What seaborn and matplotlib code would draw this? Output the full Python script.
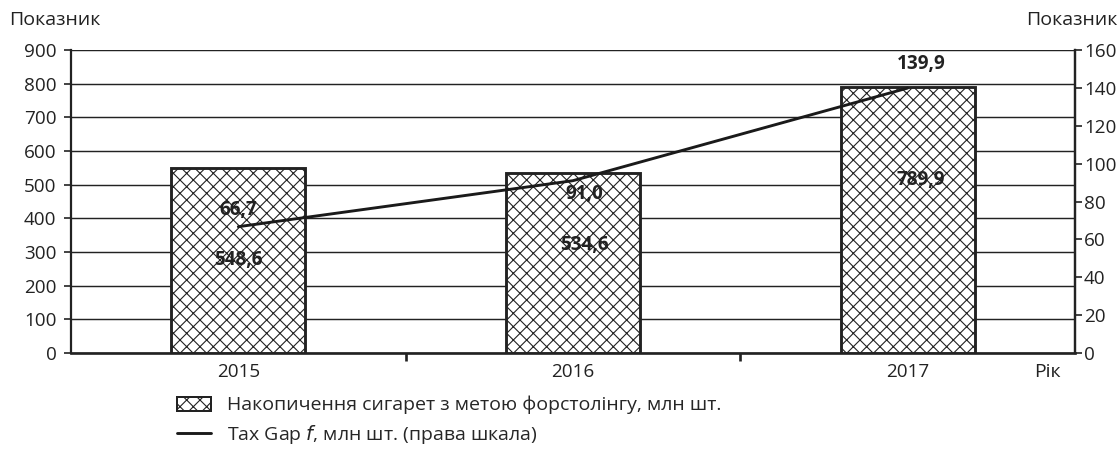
import numpy as np
import pandas as pd
import matplotlib
matplotlib.use("Agg")
import matplotlib.pyplot as plt
import seaborn as sns
from matplotlib.patches import Patch
from matplotlib.lines import Line2D
from matplotlib.ticker import FixedLocator

# дані
years = ["2015", "2016", "2017"]
stock = [548.6, 534.6, 789.9]        # накопичення, ліва шкала
tax_gap = [66.7, 91.0, 139.9]        # Tax Gap f, права шкала
stock_labels = ["548,6", "534,6", "789,9"]
gap_labels = ["66,7", "91,0", "139,9"]

# розміщення підписів (лише оформлення)
stock_label_y = [276, 321, 514]
gap_label_y = [75.5, 84, 152.6]
label_dx = [0.0, 0.035, 0.04]

sns.set_theme(style="white")
plt.rcParams['font.family'] = ['Open Sans', 'DejaVu Sans']
plt.rcParams['hatch.linewidth'] = 1.0

df = pd.DataFrame({"year": years, "stock": stock, "gap": tax_gap})

DPI = 80
fig = plt.figure(figsize=(1119 / DPI, 449 / DPI), dpi=DPI)
ax = fig.add_axes([71 / 1119, 1 - 353 / 449, (1075 - 71) / 1119, 303 / 449])

sns.barplot(data=df, x="year", y="stock", ax=ax, color="white",
            edgecolor="#222222", linewidth=2.6, hatch="xx", width=0.4,
            saturation=1, zorder=3)
ax.set_xlim(-0.5, 2.5)
ax.set_ylim(0, 900)
ax.set_yticks(np.arange(0, 901, 100))
ax.set_xlabel("")
ax.set_ylabel("")
ax.yaxis.grid(True, color="#222222", linewidth=1.3)
ax.set_axisbelow(True)

ax.tick_params(axis="y", left=True, direction="out", length=6, width=1.5,
               labelsize=17, color="#222222", labelcolor="#222222", pad=7)
ax.tick_params(axis="x", which="major", bottom=False, length=0,
               labelsize=17, pad=9, labelcolor="#222222")
ax.xaxis.set_minor_locator(FixedLocator([0.5, 1.5]))
ax.tick_params(axis="x", which="minor", bottom=True, direction="out",
               length=7, width=2.4, color="#222222")

for s in ["left", "right", "bottom"]:
    ax.spines[s].set_color("#222222")
    ax.spines[s].set_linewidth(2)
ax.spines["bottom"].set_linewidth(2.4)
ax.spines["top"].set_visible(False)

for i, lab in enumerate(stock_labels):
    ax.text(i + label_dx[i], stock_label_y[i], lab, ha="center", va="center",
            fontsize=17, fontweight="bold", color="#222222", zorder=5)

# права шкала
ax2 = ax.twinx()
sns.lineplot(x=np.arange(len(years)), y=tax_gap, ax=ax2, color="#1a1a1a",
             linewidth=2.6, zorder=4)
ax2.set_ylim(0, 160)
ax2.set_yticks(np.arange(0, 161, 20))
ax2.set_xlim(-0.5, 2.5)
ax2.tick_params(axis="y", right=True, direction="out", length=6, width=1.5,
                labelsize=17, color="#222222", labelcolor="#222222", pad=2)
for s in ["top", "left", "bottom"]:
    ax2.spines[s].set_visible(False)
ax2.spines["right"].set_color("#222222")
ax2.spines["right"].set_linewidth(2)

for i, lab in enumerate(gap_labels):
    ax2.text(i + label_dx[i], gap_label_y[i], lab, ha="center", va="center",
             fontsize=17, fontweight="bold", color="#222222", zorder=5)

# підписи осей
fig.text(9 / 1119, 1 - 20 / 449, "Показник", ha="left", va="center",
         fontsize=17.5, color="#222222")
fig.text(1117 / 1119, 1 - 20 / 449, "Показник", ha="right", va="center",
         fontsize=17.5, color="#222222")
fig.text(1034 / 1119, 1 - 372 / 449, "Рік", ha="left", va="center",
         fontsize=17.5, color="#222222")

handles = [
    Patch(facecolor="white", edgecolor="#222222", hatch="xx", linewidth=1.8,
          label="Накопичення сигарет з метою форстолінгу, млн шт."),
    Line2D([0], [0], color="#1a1a1a", linewidth=2.6,
           label="Tax Gap $\\it{f}$, млн шт. (права шкала)"),
]
fig.legend(handles=handles, loc="upper left",
           bbox_to_anchor=(177 / 1119, 1 - 396 / 449), frameon=False,
           fontsize=17.5, handlelength=1.75, handleheight=0.75,
           handletextpad=0.8, labelspacing=0.42, borderaxespad=0,
           borderpad=0)

fig.savefig("out.png", dpi=DPI)
